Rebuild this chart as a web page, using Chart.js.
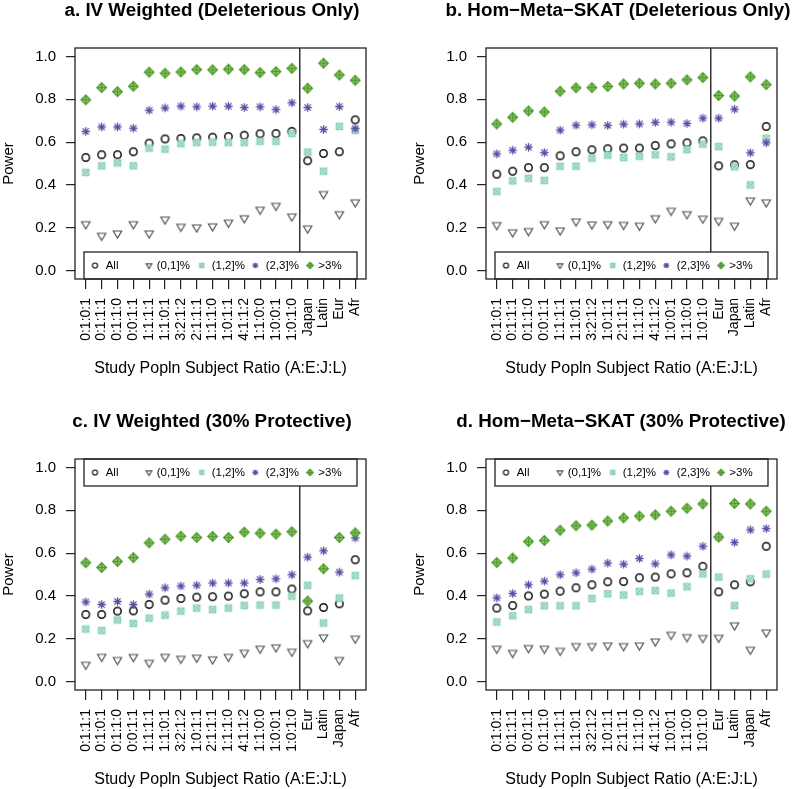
<!DOCTYPE html>
<html><head><meta charset="utf-8">
<script src="https://cdn.jsdelivr.net/npm/chart.js@4.4.0/dist/chart.umd.min.js"></script>
<style>
html,body{margin:0;padding:0;background:#fff;overflow:hidden;width:800px;height:789px;position:relative;}
canvas{position:absolute;}
</style></head><body>
<canvas id="cA" width="411" height="411" style="left:0;top:0"></canvas>
<canvas id="cB" width="411" height="411" style="left:411px;top:0"></canvas>
<canvas id="cC" width="411" height="411" style="left:0;top:411px"></canvas>
<canvas id="cD" width="411" height="411" style="left:411px;top:411px"></canvas>
<script>
// ---------- data ----------
const seriesNames = ['All', '(0,1]%', '(1,2]%', '(2,3]%', '>3%'];
const yTickValues = [0, 0.2, 0.4, 0.6, 0.8, 1.0];
const xAxisTitle = 'Study Popln Subject Ratio (A:E:J:L)';
const yAxisTitle = 'Power';

const titleA = 'a. IV Weighted (Deleterious Only)';
const labelsA = ['0:1:0:1','0:1:1:1','0:1:1:0','0:0:1:1','1:1:1:1','1:1:0:1','3:2:1:2','2:1:1:1','1:1:1:0','1:0:1:1','4:1:1:2','1:1:0:0','1:0:0:1','1:0:1:0','Japan','Latin','Eur','Afr'];
const allA = [0.528,0.541,0.541,0.555,0.595,0.615,0.617,0.620,0.623,0.626,0.632,0.639,0.640,0.650,0.513,0.547,0.555,0.704];
const r01A = [0.216,0.162,0.173,0.216,0.173,0.238,0.204,0.201,0.206,0.223,0.244,0.284,0.302,0.252,0.196,0.357,0.263,0.318];
const r12A = [0.458,0.489,0.503,0.489,0.572,0.567,0.593,0.598,0.600,0.598,0.598,0.604,0.604,0.640,0.553,0.464,0.673,0.654];
const r23A = [0.650,0.671,0.671,0.665,0.749,0.760,0.768,0.765,0.768,0.768,0.762,0.765,0.752,0.784,0.762,0.659,0.766,0.664];
const r3A  = [0.798,0.855,0.836,0.861,0.927,0.922,0.928,0.939,0.938,0.941,0.939,0.925,0.930,0.945,0.852,0.969,0.914,0.889];

const titleB = 'b. Hom\u2212Meta\u2212SKAT (Deleterious Only)';
const labelsB = ['0:1:0:1','0:1:1:1','0:1:1:0','0:0:1:1','1:1:1:1','1:1:0:1','3:2:1:2','1:0:1:1','2:1:1:1','1:1:1:0','4:1:1:2','1:0:0:1','1:1:0:0','1:0:1:0','Eur','Japan','Latin','Afr'];
const allB = [0.450,0.464,0.481,0.481,0.536,0.555,0.564,0.569,0.572,0.572,0.584,0.592,0.597,0.606,0.489,0.494,0.495,0.673];
const r01B = [0.212,0.178,0.184,0.216,0.187,0.229,0.215,0.216,0.213,0.209,0.244,0.279,0.263,0.242,0.232,0.209,0.327,0.318];
const r12B = [0.369,0.419,0.431,0.421,0.487,0.487,0.525,0.539,0.528,0.534,0.541,0.531,0.565,0.590,0.579,0.485,0.400,0.618];
const r23B = [0.545,0.562,0.576,0.551,0.656,0.679,0.681,0.678,0.684,0.685,0.692,0.693,0.687,0.712,0.712,0.754,0.550,0.597];
const r3B  = [0.685,0.716,0.746,0.741,0.838,0.854,0.855,0.860,0.872,0.875,0.872,0.875,0.891,0.902,0.818,0.815,0.905,0.869];

const titleC = 'c. IV Weighted (30% Protective)';
const labelsC = ['0:1:1:1','0:1:0:1','0:1:1:0','0:0:1:1','1:1:1:1','1:1:0:1','3:2:1:2','1:0:1:1','2:1:1:1','1:1:1:0','4:1:1:2','1:1:0:0','1:0:0:1','1:0:1:0','Eur','Latin','Japan','Afr'];
const allC = [0.313,0.313,0.329,0.330,0.360,0.380,0.388,0.394,0.396,0.399,0.410,0.419,0.419,0.432,0.330,0.346,0.363,0.569];
const r01C = [0.078,0.115,0.100,0.114,0.087,0.115,0.106,0.111,0.103,0.115,0.134,0.153,0.159,0.139,0.179,0.206,0.100,0.200];
const r12C = [0.245,0.238,0.287,0.271,0.296,0.310,0.329,0.343,0.336,0.343,0.355,0.357,0.357,0.399,0.449,0.273,0.390,0.495];
const r23C = [0.372,0.360,0.374,0.360,0.408,0.438,0.446,0.450,0.460,0.460,0.460,0.477,0.480,0.499,0.581,0.611,0.511,0.671];
const r3C  = [0.555,0.533,0.561,0.579,0.648,0.665,0.679,0.673,0.678,0.673,0.698,0.693,0.689,0.700,0.376,0.527,0.673,0.695];

const titleD = 'd. Hom\u2212Meta\u2212SKAT (30% Protective)';
const labelsD = ['0:1:0:1','0:1:1:1','0:0:1:1','0:1:1:0','1:1:1:1','1:1:0:1','3:2:1:2','1:0:1:1','2:1:1:1','1:1:1:0','4:1:1:2','1:0:0:1','1:1:0:0','1:0:1:0','Eur','Latin','Japan','Afr'];
const allD = [0.343,0.355,0.400,0.408,0.422,0.438,0.452,0.466,0.467,0.485,0.488,0.503,0.508,0.538,0.419,0.452,0.466,0.632];
const r01D = [0.153,0.133,0.156,0.153,0.143,0.165,0.165,0.168,0.165,0.168,0.187,0.218,0.207,0.203,0.204,0.262,0.148,0.229];
const r12D = [0.278,0.307,0.336,0.354,0.354,0.354,0.388,0.410,0.404,0.421,0.425,0.413,0.443,0.503,0.488,0.355,0.480,0.502];
const r23D = [0.391,0.411,0.452,0.469,0.499,0.508,0.525,0.553,0.548,0.575,0.550,0.592,0.586,0.632,0.676,0.650,0.709,0.715];
const r3D  = [0.556,0.577,0.654,0.659,0.707,0.728,0.731,0.750,0.765,0.773,0.779,0.796,0.810,0.830,0.675,0.832,0.830,0.796];

const splitAfterIndex = 13; // ratios | single populations

// ---------- markers ----------
const FONT = '"Liberation Sans", Arial, Helvetica, sans-serif';
const AXIS_COLOR = '#222';
function makeMarker(kind, s) {
  const N = 13;
  const c = document.createElement('canvas');
  c.width = N; c.height = N;
  const g = c.getContext('2d');
  const m = N / 2;
  g.lineJoin = 'miter';
  if (kind === 0) { // open circle
    g.strokeStyle = '#111'; g.lineWidth = 1.5 * Math.max(s, 0.8);
    g.beginPath(); g.arc(m, m, 3.7 * s, 0, Math.PI * 2); g.stroke();
  } else if (kind === 1) { // down triangle
    const hw = 4.2 * s, top = m - 2.5 * s, bot = m + 4.6 * s;
    g.strokeStyle = '#475757'; g.lineWidth = 1.15;
    g.beginPath(); g.moveTo(m - hw, top); g.lineTo(m + hw, top); g.lineTo(m, bot); g.closePath(); g.stroke();
  } else if (kind === 2) { // boxed x
    const h = 3.2 * s;
    g.fillStyle = '#bfe7d4'; g.fillRect(m - h, m - h, 2 * h, 2 * h);
    g.strokeStyle = '#8dd2b2'; g.lineWidth = 1.2;
    g.strokeRect(m - h, m - h, 2 * h, 2 * h);
    g.beginPath(); g.moveTo(m - h, m - h); g.lineTo(m + h, m + h); g.moveTo(m + h, m - h); g.lineTo(m - h, m + h); g.stroke();
  } else if (kind === 3) { // asterisk
    const r = 4.2 * s, d = 3.1 * s;
    g.strokeStyle = '#5a4fa6'; g.lineWidth = 1.3;
    g.beginPath();
    g.moveTo(m - r, m); g.lineTo(m + r, m); g.moveTo(m, m - r); g.lineTo(m, m + r);
    g.moveTo(m - d, m - d); g.lineTo(m + d, m + d); g.moveTo(m + d, m - d); g.lineTo(m - d, m + d);
    g.stroke();
  } else { // diamond plus
    const r = 4.8 * s;
    g.fillStyle = '#8cc765';
    g.beginPath(); g.moveTo(m, m - r); g.lineTo(m + r, m); g.lineTo(m, m + r); g.lineTo(m - r, m); g.closePath(); g.fill();
    g.strokeStyle = '#4e9a2c'; g.lineWidth = 1.2; g.stroke();
    g.beginPath(); g.moveTo(m - r, m); g.lineTo(m + r, m); g.moveTo(m, m - r); g.lineTo(m, m + r); g.stroke();
  }
  return c;
}
const plotMarkers = [0, 1, 2, 3, 4].map(k => makeMarker(k, 1));
const legendMarkers = [0, 1, 2, 3, 4].map(k => makeMarker(k, 0.68));

// ---------- plugin: frame, split line, legend, title ----------
const panelPlugin = {
  id: 'panel',
  beforeDatasetsDraw(chart) {
    const { ctx, chartArea: a, scales: { x } } = chart;
    const sx = x.getPixelForValue(splitAfterIndex + 0.5);
    ctx.save();
    ctx.strokeStyle = '#333'; ctx.lineWidth = 1.5;
    ctx.beginPath(); ctx.moveTo(sx, a.top); ctx.lineTo(sx, a.bottom); ctx.stroke();
    ctx.restore();
  },
  afterDatasetsDraw(chart) {
    const { ctx, chartArea: a } = chart;
    const p = chart.options.plugins.panel;
    ctx.save();
    // legend box
    const lx = a.left + 9, lw = 273, lh = 27;
    const ly = p.legendPos === 'top' ? a.top : a.bottom - lh;
    ctx.fillStyle = '#fff'; ctx.fillRect(lx, ly, lw, lh);
    ctx.strokeStyle = AXIS_COLOR; ctx.lineWidth = 1.3; ctx.strokeRect(lx, ly, lw, lh);
    const mx = [11, 65, 117.7, 171.3, 226];
    const tx = [21.7, 72.7, 127.7, 181.7, 234.3];
    const cy = ly + lh / 2;
    ctx.font = '11.5px ' + FONT; ctx.fillStyle = '#000'; ctx.textBaseline = 'middle'; ctx.textAlign = 'left';
    seriesNames.forEach((n, k) => {
      const im = legendMarkers[k];
      ctx.drawImage(im, lx + mx[k] - im.width / 2, cy - im.height / 2);
      ctx.fillText(n, lx + tx[k], cy + 0.5);
    });
    // frame
    ctx.strokeStyle = AXIS_COLOR; ctx.lineWidth = 1.3;
    ctx.strokeRect(a.left, a.top, a.right - a.left, a.bottom - a.top);
    // title
    ctx.font = 'bold 18.8px ' + FONT; ctx.textAlign = 'center'; ctx.textBaseline = 'alphabetic';
    ctx.fillText(p.title, p.titleX, 16);
    ctx.restore();
  }
};

function makePanel(id, title, titleX, labels, series, legendPos) {
  const datasets = series.map((vals, k) => ({
    label: seriesNames[k],
    data: vals.map((v, i) => ({ x: i, y: v })),
    pointStyle: plotMarkers[k],
    pointRadius: 4,
    showLine: false,
    order: 5 - k
  }));
  return new Chart(document.getElementById(id), {
    type: 'scatter',
    data: { datasets },
    plugins: [panelPlugin],
    options: {
      responsive: false,
      animation: false,
      devicePixelRatio: 1,
      layout: { padding: { left: 0, top: 48, right: 45, bottom: 0 } },
      plugins: {
        legend: { display: false },
        tooltip: { enabled: false },
        panel: { title, titleX, legendPos }
      },
      scales: {
        x: {
          type: 'linear', min: -0.68, max: labels.length - 1 + 0.68,
          afterBuildTicks: s => { s.ticks = labels.map((_, i) => ({ value: i })); },
          afterFit: s => { s.height = 132; },
          ticks: {
            callback: v => labels[v], autoSkip: false, minRotation: 90, maxRotation: 90,
            padding: 9, color: '#000', font: { family: FONT, size: 14 }
          },
          grid: { display: true, drawOnChartArea: false, drawTicks: true, tickLength: 10, color: AXIS_COLOR, lineWidth: 1.2 },
          border: { display: false },
          title: { display: true, text: xAxisTitle, color: '#000', font: { family: FONT, size: 16 }, padding: { top: 0, bottom: 33 } }
        },
        y: {
          type: 'linear', min: -0.04, max: 1.04,
          afterBuildTicks: s => { s.ticks = yTickValues.map(v => ({ value: v })); },
          afterFit: s => { s.width = 75; },
          ticks: {
            callback: v => v.toFixed(1), padding: 10, color: '#000', font: { family: FONT, size: 15 }
          },
          grid: { display: true, drawOnChartArea: false, drawTicks: true, tickLength: 9, color: AXIS_COLOR, lineWidth: 1.2 },
          border: { display: false },
          title: { display: true, text: yAxisTitle, color: '#000', font: { family: FONT, size: 15 }, padding: { top: 0, bottom: 0 } }
        }
      }
    }
  });
}

makePanel('cA', titleA, 212, labelsA, [allA, r01A, r12A, r23A, r3A], 'bottom');
makePanel('cB', titleB, 207, labelsB, [allB, r01B, r12B, r23B, r3B], 'bottom');
makePanel('cC', titleC, 212, labelsC, [allC, r01C, r12C, r23C, r3C], 'top');
makePanel('cD', titleD, 210, labelsD, [allD, r01D, r12D, r23D, r3D], 'top');
</script>
</body></html>
